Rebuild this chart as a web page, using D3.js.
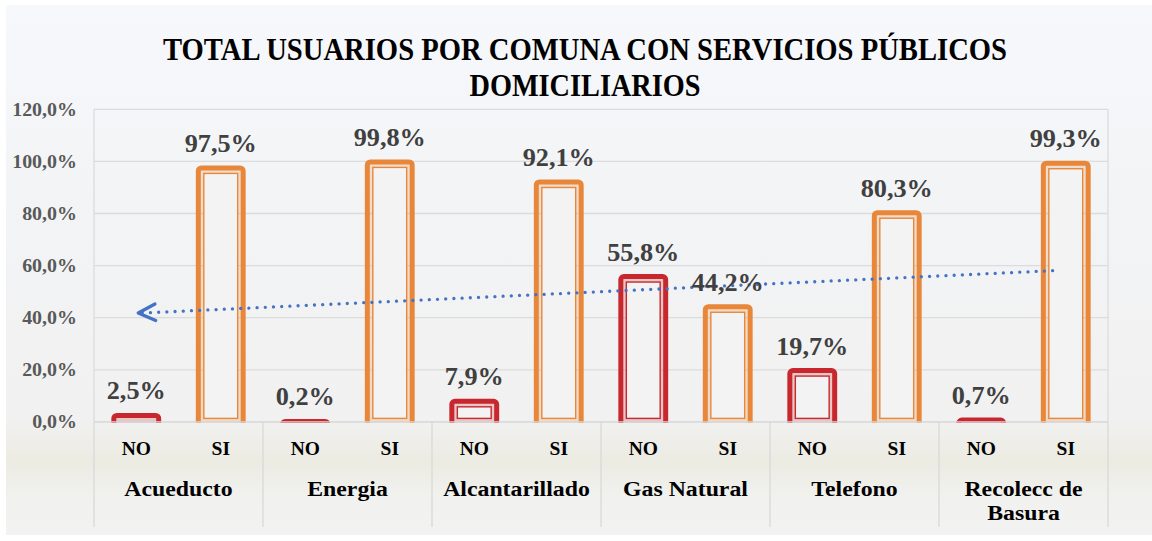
<!DOCTYPE html>
<html>
<head>
<meta charset="utf-8">
<script src="https://cdn.jsdelivr.net/npm/d3@7"></script>
<style>
  html, body { margin: 0; padding: 0; background: #ffffff; }
  svg { display: block; }
  text { font-family: "Liberation Serif", "DejaVu Serif", serif; font-weight: bold; }
</style>
</head>
<body>
<svg id="chart" width="1152" height="541"></svg>
<script>
// ---- data ----
const titleLines = ["TOTAL USUARIOS POR COMUNA CON SERVICIOS PÚBLICOS", "DOMICILIARIOS"];
const categories = ["Acueducto", "Energia", "Alcantarillado", "Gas Natural", "Telefono", "Recolecc de Basura"];
const subLabels = ["NO", "SI"];
const noValues = [2.5, 0.2, 7.9, 55.8, 19.7, 0.7];
const siValues = [97.5, 99.8, 92.1, 44.2, 80.3, 99.3];
const yTicks = [0, 20, 40, 60, 80, 100, 120];

// ---- layout ----
const W = 1152, H = 541;
const plot = { left: 94, right: 1108, top: 109.3, bottom: 421.9 };
const colors = { NO: "#C8282D", SI: "#E8873A" };
const fmt = v => d3.format(".1f")(v).replace(".", ",") + "%";

// widen Liberation Serif to approximate the wider original serif face
function stretch(sel, k) {
  sel.each(function () {
    const w = this.getComputedTextLength();
    d3.select(this).attr("textLength", w * k).attr("lengthAdjust", "spacingAndGlyphs");
  });
}

const svg = d3.select("#chart");
const defs = svg.append("defs");

// background gradient
const grad = defs.append("linearGradient").attr("id", "bg")
  .attr("gradientUnits", "userSpaceOnUse").attr("x1", 0).attr("y1", 5).attr("x2", 0).attr("y2", 535);
[[0, "#f6f8fb"], [0.35, "#f3f4f6"], [0.78, "#f1f1f1"], [0.86, "#ecebe2"], [0.93, "#f1f1ef"], [1, "#f2f2f2"]]
  .forEach(([o, c]) => grad.append("stop").attr("offset", o).attr("stop-color", c));

defs.append("clipPath").attr("id", "plotClip").append("rect")
  .attr("x", plot.left).attr("y", 0).attr("width", plot.right - plot.left).attr("height", plot.bottom + 0.8);

svg.append("rect").attr("x", 6).attr("y", 5).attr("width", W - 6).attr("height", 530).attr("fill", "url(#bg)");

// scales
const y = d3.scaleLinear().domain([0, 120]).range([plot.bottom, plot.top]);
const x0 = d3.scaleBand().domain(categories).range([plot.left, plot.right]).padding(0);
const x1 = d3.scaleBand().domain(subLabels).range([0, x0.bandwidth()]).paddingInner(0.41).paddingOuter(0.205);

// gridlines
const grid = svg.append("g");
grid.selectAll("line").data(yTicks).join("line")
  .attr("x1", plot.left).attr("x2", plot.right)
  .attr("y1", d => y(d)).attr("y2", d => y(d))
  .attr("stroke", "#dcdcdc").attr("stroke-width", 1.3);
[plot.left, plot.right].forEach(xx => {
  grid.append("line").attr("x1", xx).attr("x2", xx).attr("y1", plot.top).attr("y2", plot.bottom)
    .attr("stroke", "#dcdcdc").attr("stroke-width", 1.3);
});

// y axis labels
const yAxis = d3.axisLeft(y).tickValues(yTicks).tickFormat(fmt).tickSize(0).tickPadding(0);
const yg = svg.append("g").attr("transform", `translate(77,0)`).call(yAxis);
yg.select(".domain").remove();
yg.selectAll("text").attr("fill", "#595959").style("font-size", "19px")
  .style("font-family", '"Liberation Serif", serif').style("font-weight", "bold").attr("dy", "0.32em");
stretch(yg.selectAll("text"), 1.05);

// x axis dividers
const divX = categories.map(c => x0(c)).concat([plot.right]);
svg.append("g").selectAll("line").data(divX).join("line")
  .attr("x1", d => d).attr("x2", d => d).attr("y1", plot.bottom).attr("y2", 527)
  .attr("stroke", "#d9d9d9").attr("stroke-width", 1.3);

// bars
const rows = [];
categories.forEach((c, i) => {
  rows.push({ cat: c, sub: "NO", v: noValues[i] });
  rows.push({ cat: c, sub: "SI", v: siValues[i] });
});

const barsG = svg.append("g").attr("clip-path", "url(#plotClip)");
const bg = barsG.selectAll("g.bar").data(rows).join("g").attr("class", "bar");
const sw = 5;
bg.append("rect")
  .attr("x", d => x0(d.cat) + x1(d.sub) + sw / 2)
  .attr("y", d => y(d.v))
  .attr("width", x1.bandwidth() - sw)
  .attr("height", d => Math.max(0, y(0) - y(d.v)) + 4)
  .attr("rx", 3)
  .attr("fill", d => colors[d.sub]).attr("fill-opacity", 0.22)
  .attr("stroke", d => colors[d.sub]).attr("stroke-width", sw);
bg.append("rect")
  .attr("x", d => x0(d.cat) + x1(d.sub) + 8)
  .attr("y", d => y(d.v) + 5.5)
  .attr("width", x1.bandwidth() - 16)
  .attr("height", d => Math.max(0, y(0) - y(d.v) - 9))
  .attr("fill", "#f3f3f3")
  .attr("stroke", d => colors[d.sub]).attr("stroke-width", 1.4);

// axis line
svg.append("line").attr("x1", plot.left).attr("x2", plot.right)
  .attr("y1", plot.bottom).attr("y2", plot.bottom).attr("stroke", "#d9d9d9").attr("stroke-width", 1.3);

// trendline (linear regression over the 12 points, Excel style)
const n = rows.length;
const xs = d3.range(1, n + 1);
const mx = d3.mean(xs), my = d3.mean(rows, d => d.v);
const slope = d3.sum(rows, (d, i) => (xs[i] - mx) * (d.v - my)) / d3.sum(xs, xx => (xx - mx) ** 2);
const icpt = my - slope * mx;
const cx = d => x0(d.cat) + x1(d.sub) + x1.bandwidth() / 2;
const pA = [cx(rows[0]) + 2, y(icpt + slope * 1)];
const pB = [cx(rows[n - 1]) - 5, y(icpt + slope * n)];
svg.append("line").attr("x1", pA[0] + 4).attr("y1", pA[1]).attr("x2", pB[0]).attr("y2", pB[1])
  .attr("stroke", "#4472C4").attr("stroke-width", 3.3).attr("stroke-linecap", "round")
  .attr("stroke-dasharray", "0.01 8.2");
const ang = Math.atan2(pB[1] - pA[1], pB[0] - pA[0]);
const aLen = 19, aSpread = 0.45;
const arm = s => [pA[0] + aLen * Math.cos(ang + s * aSpread), pA[1] + aLen * Math.sin(ang + s * aSpread)];
svg.append("path")
  .attr("d", d3.line()([arm(-1), pA, arm(1)]))
  .attr("fill", "none").attr("stroke", "#4472C4").attr("stroke-width", 3.3)
  .attr("stroke-linecap", "round").attr("stroke-linejoin", "round");

// data labels
const dl = svg.append("g").selectAll("text").data(rows).join("text")
  .attr("x", d => cx(d))
  .attr("y", d => y(d.v) - 16)
  .attr("text-anchor", "middle")
  .attr("fill", "#404040")
  .style("font-size", "25px")
  .text(d => fmt(d.v));
stretch(dl, 1.05);

// x sub labels
svg.append("g").selectAll("text").data(rows).join("text")
  .attr("x", d => cx(d)).attr("y", 455)
  .attr("text-anchor", "middle").attr("fill", "#000")
  .style("font-size", "19.5px")
  .text(d => d.sub);

// category labels (wrapped)
const catG = svg.append("g");
categories.forEach(c => {
  const cxx = x0(c) + x0.bandwidth() / 2;
  const t = catG.append("text")
    .attr("x", cxx).attr("y", 496)
    .attr("text-anchor", "middle").attr("fill", "#000").style("font-size", "20.5px");
  const words = c.split(" ");
  let line = [];
  let ts = t.append("tspan").attr("x", cxx).attr("dy", 0);
  words.forEach(w => {
    line.push(w);
    ts.text(line.join(" "));
    if (ts.node().getComputedTextLength() * 1.16 > x0.bandwidth() - 30 && line.length > 1) {
      line.pop();
      ts.text(line.join(" "));
      line = [w];
      ts = t.append("tspan").attr("x", cxx).attr("dy", 24).text(w);
    }
  });
  stretch(t.selectAll("tspan"), 1.16);
});

// title
const titleW = [844, 231];
const titleY = [60, 96];
titleLines.forEach((s, i) => {
  svg.append("text")
    .attr("x", 585).attr("y", titleY[i])
    .attr("text-anchor", "middle").attr("fill", "#000")
    .style("font-size", "32px")
    .attr("textLength", titleW[i]).attr("lengthAdjust", "spacingAndGlyphs")
    .text(s);
});
</script>
</body>
</html>
